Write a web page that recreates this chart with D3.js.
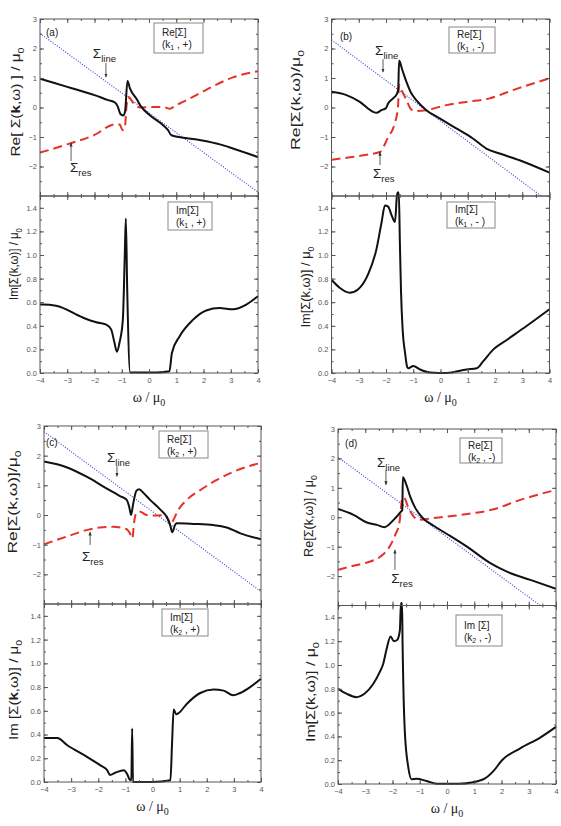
<!DOCTYPE html>
<meta charset="utf-8">
<title>Self-energy panels</title>
<style>

body {
  margin: 0;
  background: #fff;
}

svg {
  font-family: "Liberation Sans", Arial, sans-serif;
}

.frame {
  fill: none;
  stroke: #555;
  stroke-width: 1;
}

.axis line {
  stroke: #555;
}

.axis text {
  font-size: 7.5px;
  fill: #555;
}

.black {
  fill: none;
  stroke: #111;
  stroke-width: 2;
  stroke-linejoin: round;
}

.red {
  fill: none;
  stroke: #e53228;
  stroke-width: 2;
  stroke-dasharray: 9,5;
}

.blue {
  fill: none;
  stroke: #3a4bd8;
  stroke-width: 1.2;
  stroke-dasharray: 1,1.6;
}

.legend rect {
  fill: #fff;
  stroke: #888;
}

.legend text {
  font-size: 10px;
  fill: #222;
}

.note, .note tspan {
  fill: #222;
}

</style>
<body>
<script src="https://d3js.org/d3.v7.min.js"></script>
<script>

// tick values
var omegaTicks = [-4, -3, -2, -1, 0, 1, 2, 3, 4];
var reTicks = [-2, -1, 0, 1, 2, 3];
var imTicks = [0, 0.2, 0.4, 0.6, 0.8, 1.0, 1.2, 1.4];

// (a) k1, +
var aReBlack = [[-4,0.98],[-3,0.7],[-2,0.42],[-1.5,0.25],[-1.25,0.17],[-1.15,0.04],[-1.05,-0.22],[-0.95,-0.27],[-0.88,-0.15],[-0.79,0.9],[-0.7,0.65],[-0.46,0.3],[-0.28,0.02],[0.03,-0.26],[0.52,-0.6],[0.7,-0.77],[0.82,-0.94],[1.86,-1.1],[2.6,-1.25],[3.08,-1.39],[4,-1.68]];
var aReRed = [[-4,-1.53],[-3,-1.25],[-2,-0.93],[-1.25,-0.57],[-1.07,-0.58],[-0.97,-0.77],[-0.89,-0.72],[-0.82,0.1],[-0.75,0.36],[-0.65,0.25],[-0.55,0.12],[-0.3,0.0],[0.3,0.02],[0.6,0.0],[0.76,-0.04],[1.0,0.08],[1.25,0.19],[1.86,0.48],[2.35,0.72],[3.08,1.02],[4,1.23]];
var aLine = [[-4,2.51],[4,-2.87]];
var aImBlack = [[-4,0.58],[-3.9,0.58],[-3.41,0.57],[-2.43,0.47],[-1.94,0.43],[-1.57,0.41],[-1.39,0.37],[-1.27,0.26],[-1.18,0.18],[-1.08,0.26],[-0.96,0.45],[-0.89,0.99],[-0.85,1.31],[-0.8,0.71],[-0.69,0.005],[-0.35,0.005],[0.3,0.005],[0.75,0.015],[0.84,0.17],[1.12,0.31],[1.61,0.45],[2.1,0.53],[2.59,0.55],[3.08,0.54],[3.57,0.58],[4,0.65]];

// (b) k1, -
var bReBlack = [[-4,0.53],[-3.45,0.42],[-2.96,0.19],[-2.47,-0.15],[-2.35,-0.18],[-2.17,-0.09],[-2.01,-0.03],[-1.92,0.14],[-1.74,0.31],[-1.59,0.48],[-1.55,0.65],[-1.52,1.59],[-1.4,1.27],[-1.25,0.87],[-1.07,0.48],[-0.89,0.25],[-0.52,-0.09],[-0.03,-0.37],[0.58,-0.71],[1.19,-1.05],[1.68,-1.39],[2.17,-1.56],[2.9,-1.79],[4,-2.21]];
var bReRed = [[-4,-1.77],[-2.84,-1.62],[-2.23,-1.51],[-1.92,-1.0],[-1.68,-0.54],[-1.56,0.02],[-1.52,0.76],[-1.43,0.59],[-1.25,0.25],[-1.07,-0.07],[-0.89,-0.12],[-0.52,-0.09],[0.21,0.08],[0.95,0.19],[1.8,0.31],[2.66,0.59],[4,0.99]];
var bLine = [[-4,2.29],[4,-3.21]];
var bImBlack = [[-4,0.79],[-3.69,0.72],[-3.33,0.68],[-3.02,0.71],[-2.65,0.84],[-2.35,1.05],[-2.16,1.28],[-2.04,1.42],[-1.92,1.41],[-1.8,1.34],[-1.67,1.28],[-1.6,1.5],[-1.57,1.53],[-1.53,1.53],[-1.49,1.1],[-1.45,0.7],[-1.39,0.37],[-1.3,0.17],[-1.22,0.05],[-1.18,0.04],[-1.0,0.06],[-0.75,0.03],[-0.39,0.005],[0.23,0],[0.96,0.03],[1.33,0.04],[1.57,0.1],[1.94,0.2],[2.43,0.28],[3.17,0.4],[4,0.54]];

// (c) k2, +
var cReBlack = [[-4,1.8],[-3.17,1.61],[-2.43,1.29],[-1.7,0.9],[-1.2,0.64],[-0.95,0.51],[-0.86,0.28],[-0.79,0.0],[-0.71,0.39],[-0.59,0.82],[-0.49,0.87],[-0.34,0.75],[-0.09,0.51],[0.28,0.19],[0.52,-0.06],[0.65,-0.34],[0.73,-0.58],[0.83,-0.34],[0.89,-0.28],[1.51,-0.3],[2.25,-0.34],[2.74,-0.42],[3.24,-0.62],[4,-0.82]];
var cReRed = [[-4,-0.99],[-3.17,-0.73],[-2.43,-0.51],[-1.94,-0.42],[-1.45,-0.4],[-0.95,-0.48],[-0.83,-0.62],[-0.74,-0.79],[-0.69,-0.34],[-0.59,0.08],[-0.46,0.11],[-0.22,0],[0.15,-0.02],[0.46,0],[0.59,-0.17],[0.67,-0.34],[0.77,-0.17],[0.95,0.17],[1.26,0.51],[1.76,0.84],[2.37,1.18],[2.99,1.46],[4,1.76]];
var cLine = [[-4,2.81],[4,-2.58]];
var cImBlack = [[-4,0.37],[-3.51,0.37],[-3.14,0.31],[-2.4,0.21],[-1.92,0.14],[-1.67,0.1],[-1.57,0.06],[-1.36,0.08],[-1.06,0.1],[-0.94,0.07],[-0.84,0.02],[-0.78,0.015],[-0.75,0.45],[-0.72,0.0],[0,0.0],[0.66,0.015],[0.72,0.32],[0.78,0.61],[0.88,0.57],[0.96,0.58],[1.27,0.66],[1.76,0.75],[2.25,0.78],[2.62,0.77],[2.98,0.73],[3.23,0.75],[3.6,0.8],[4,0.87]];

// (d) k2, -
var dReBlack = [[-4,0.28],[-3.43,0.08],[-2.94,-0.18],[-2.57,-0.26],[-2.3,-0.34],[-1.96,-0.09],[-1.69,0.19],[-1.64,0.25],[-1.62,1.36],[-1.49,1.1],[-1.35,0.7],[-1.16,0.31],[-0.92,0],[-0.49,-0.29],[0,-0.57],[0.73,-1.0],[1.59,-1.56],[2.2,-1.85],[3.06,-2.13],[4,-2.43]];
var dReRed = [[-4,-1.79],[-3.43,-1.65],[-2.94,-1.54],[-2.45,-1.34],[-2.14,-1.05],[-1.9,-0.6],[-1.74,-0.15],[-1.64,0.65],[-1.59,0.68],[-1.41,0.31],[-1.22,0.02],[-1.04,-0.09],[-0.49,-0.03],[0.49,0.08],[1.71,0.27],[2.69,0.59],[4,0.93]];
var dLine = [[-4,2.04],[4,-3.39]];
var dImBlack = [[-4,0.8],[-3.69,0.76],[-3.33,0.73],[-3.02,0.76],[-2.71,0.84],[-2.47,0.94],[-2.34,1.01],[-2.22,1.13],[-2.07,1.24],[-1.95,1.2],[-1.83,1.21],[-1.73,1.29],[-1.69,1.52],[-1.65,1.52],[-1.63,1.18],[-1.55,0.45],[-1.42,0.14],[-1.3,0.04],[-1.12,0.045],[-0.75,0.025],[-0.38,0.003],[0.48,0.003],[1.34,0.04],[1.71,0.11],[2.02,0.2],[2.69,0.3],[3.42,0.39],[4,0.48]];

var panels = [
  {name: "(a)", k: "1", s: "+", imName: "Im[\u03a3]", left: 40, right: 258, top: 19, mid: 196, bottom: 373,
   re: aReBlack, res: aReRed, line: aLine, im: aImBlack,
   letter: [-3.78, 2.42], lineText: [-2.06, 1.68], lineArrow: [-1.58, 1.51, 1.03],
   resText: [-2.9, -2.19], resArrow: [-2.86, -1.81, -1.2],
   reBox: [114, 4, 49, 30], imBox: [128, 6, 44, 28],
   reLabel: [["Re[ \u03a3("], ["k", "b"], [",\u03c9) ] / \u03bc"], ["0", "s"]], reLen: 109, reX: -25, reY: 102,
   imLabel: [["Im[\u03a3(k,\u03c9)] / \u03bc"], ["0", "s"]], imLen: 72, imX: -27, imY: 264},
  {name: "(b)", k: "1", s: "-", imName: "Im[\u03a3]", left: 331.5, right: 549.5, top: 19, mid: 196, bottom: 373,
   re: bReBlack, res: bReRed, line: bLine, im: bImBlack,
   letter: [-3.69, 2.29], lineText: [-2.4, 1.78], lineArrow: [-2.11, 1.64, 1.2],
   resText: [-2.48, -2.39], resArrow: [-2.22, -1.95, -1.51],
   reBox: [117.5, 8, 46, 26], imBox: [115.5, 6, 48, 26],
   reLabel: [["Re[\u03a3(k,\u03c9)/\u03bc"], ["0", "s"]], reLen: 100, reX: -36.5, reY: 100,
   imLabel: [["Im[\u03a3(k,\u03c9)] / \u03bc"], ["0", "s"]], imLen: 81, imX: -26.5, imY: 287},
  {name: "(c)", k: "2", s: "+", imName: "Im[\u03a3]", left: 44, right: 261, top: 426, mid: 604, bottom: 782,
   re: cReBlack, res: cReRed, line: cLine, im: cImBlack,
   letter: [-3.93, 2.33], lineText: [-1.68, 1.79], lineArrow: [-1.31, 1.65, 1.3],
   resText: [-2.6, -1.55], resArrow: [-2.3, -1.01, -0.57],
   reBox: [115, 5, 49, 27], imBox: [118, 5, 46, 27],
   reLabel: [["Re[\u03a3(k,\u03c9)]/\u03bc"], ["0", "s"]], reLen: 103, reX: -32, reY: 502,
   imLabel: [["Im [\u03a3("], ["k", "b"], [",\u03c9)] / \u03bc"], ["0", "s"]], imLen: 100, imX: -31, imY: 690},
  {name: "(d)", k: "2", s: "-", imName: "Im [\u03a3]", left: 338, right: 556, top: 429, mid: 605.5, bottom: 784,
   re: dReBlack, res: dReRed, line: dLine, im: dImBlack,
   letter: [-3.74, 2.39], lineText: [-2.57, 1.71], lineArrow: [-2.24, 1.61, 1.1],
   resText: [-2.05, -2.23], resArrow: [-1.91, -1.79, -1.11],
   reBox: [122, 9, 42, 25], imBox: [118, 9.5, 46, 31],
   reLabel: [["Re[\u03a3(k,\u03c9)] / \u03bc"], ["0", "s"]], reLen: 82, reX: -30, reY: 516,
   imLabel: [["Im[\u03a3(k,\u03c9)] / \u03bc"], ["0", "s"]], imLen: 100, imX: -28, imY: 692}
];

var svg = d3.select("body").append("svg")
    .attr("width", 561)
    .attr("height", 826);

var defs = svg.append("defs");
defs.append("marker")
    .attr("id", "arrow")
    .attr("viewBox", "0 0 10 10")
    .attr("refX", 9).attr("refY", 5)
    .attr("markerWidth", 5).attr("markerHeight", 5)
    .attr("orient", "auto")
  .append("path")
    .attr("d", "M0,1L10,5L0,9z")
    .attr("fill", "#333");

function minors(lo, hi, step) {
  var out = [];
  for (var v = lo; v <= hi + 1e-9; v += step) out.push(+v.toFixed(3));
  return out;
}

function noDomain(s) { s.select(".domain").remove(); }

function frameAxes(g, x, y, w, h, yMajor, yMinor, yFmt, showX) {
  // left
  g.append("g").attr("class", "axis")
      .call(d3.axisLeft(y).tickValues(yMajor).tickSize(-4).tickPadding(3).tickFormat(yFmt))
      .call(noDomain);
  g.append("g").attr("class", "axis")
      .call(d3.axisLeft(y).tickValues(yMinor).tickSize(-2).tickFormat(""))
      .call(noDomain);
  // right
  g.append("g").attr("class", "axis").attr("transform", "translate(" + w + ",0)")
      .call(d3.axisRight(y).tickValues(yMajor).tickSize(-4).tickFormat(""))
      .call(noDomain);
  g.append("g").attr("class", "axis").attr("transform", "translate(" + w + ",0)")
      .call(d3.axisRight(y).tickValues(yMinor).tickSize(-2).tickFormat(""))
      .call(noDomain);
  // top
  g.append("g").attr("class", "axis")
      .call(d3.axisTop(x).tickValues(omegaTicks).tickSize(-4).tickFormat(""))
      .call(noDomain);
  g.append("g").attr("class", "axis")
      .call(d3.axisTop(x).tickValues(minors(-4, 4, 0.5)).tickSize(-2).tickFormat(""))
      .call(noDomain);
  // bottom
  g.append("g").attr("class", "axis").attr("transform", "translate(0," + h + ")")
      .call(d3.axisBottom(x).tickValues(omegaTicks).tickSize(-4).tickPadding(5)
        .tickFormat(showX ? d3.format("d") : ""))
      .call(noDomain);
  g.append("g").attr("class", "axis").attr("transform", "translate(0," + h + ")")
      .call(d3.axisBottom(x).tickValues(minors(-4, 4, 0.5)).tickSize(-2).tickFormat(""))
      .call(noDomain);
  g.append("rect").attr("class", "frame")
      .attr("width", w).attr("height", h);
}

function rotLabel(g, parts, cx, cy, len) {
  var t = g.append("text")
      .attr("class", "note")
      .attr("transform", "translate(" + cx + "," + cy + ") rotate(-90)")
      .attr("text-anchor", "middle")
      .attr("dy", "0.35em")
      .attr("font-size", 13)
      .attr("textLength", len)
      .attr("lengthAdjust", "spacingAndGlyphs");
  parts.forEach(function(p) {
    var sp = t.append("tspan").text(p[0]);
    if (p[1] === "b") sp.attr("font-weight", "bold");
    if (p[1] === "s") sp.attr("font-size", 9).attr("dy", 4);
  });
}

function sigma(g, x, y, pos, sub) {
  var t = g.append("text")
      .attr("class", "note")
      .attr("x", x(pos[0])).attr("y", y(pos[1]))
      .attr("font-size", 13.5);
  t.append("tspan").text("\u03a3");
  t.append("tspan").attr("font-size", 9.5).attr("dy", 4).text(sub);
}

function arrow(g, x, y, a) {
  g.append("line")
      .attr("x1", x(a[0])).attr("x2", x(a[0]))
      .attr("y1", y(a[1])).attr("y2", y(a[2]))
      .attr("stroke", "#333").attr("stroke-width", 0.8)
      .attr("marker-end", "url(#arrow)");
}

function legend(g, box, first, k, s) {
  var lg = g.append("g").attr("class", "legend")
      .attr("transform", "translate(" + box[0] + "," + box[1] + ")");
  lg.append("rect").attr("width", box[2]).attr("height", box[3]);
  lg.append("text").attr("x", 8).attr("y", box[3] / 2 - 2).text(first);
  var t = lg.append("text").attr("x", 8).attr("y", box[3] / 2 + 10);
  t.append("tspan").text("(k");
  t.append("tspan").attr("font-size", 7).attr("dy", 2).text(k);
  t.append("tspan").attr("dy", -2).text(" , " + s + ")");
}

panels.forEach(function(p, i) {
  var w = p.right - p.left;
  var hTop = p.mid - p.top;
  var hBot = p.bottom - p.mid;

  var x = d3.scaleLinear().domain([-4, 4]).range([0, w]);
  var yRe = d3.scaleLinear().domain([-3, 3]).range([hTop, 0]);
  var yIm = d3.scaleLinear().domain([0, 1.5]).range([hBot, 0]);

  var line = d3.line().x(function(d) { return x(d[0]); });

  // top: real part
  var gt = svg.append("g").attr("transform", "translate(" + p.left + "," + p.top + ")");
  defs.append("clipPath").attr("id", "clipRe" + i)
    .append("rect").attr("width", w).attr("height", hTop);

  var plotRe = gt.append("g").attr("clip-path", "url(#clipRe" + i + ")");
  plotRe.append("path").datum(p.line).attr("class", "blue")
      .attr("d", line.y(function(d) { return yRe(d[1]); }).curve(d3.curveLinear));
  plotRe.append("path").datum(p.res).attr("class", "red")
      .attr("d", line.y(function(d) { return yRe(d[1]); }).curve(d3.curveMonotoneX));
  plotRe.append("path").datum(p.re).attr("class", "black")
      .attr("d", line.y(function(d) { return yRe(d[1]); }).curve(d3.curveMonotoneX));

  frameAxes(gt, x, yRe, w, hTop, reTicks, minors(-3, 3, 0.5), d3.format("d"), false);

  gt.append("text")
      .attr("class", "note")
      .attr("x", x(p.letter[0])).attr("y", yRe(p.letter[1]))
      .attr("font-size", 10).text(p.name);
  sigma(gt, x, yRe, p.lineText, "line");
  arrow(gt, x, yRe, p.lineArrow);
  sigma(gt, x, yRe, p.resText, "res");
  arrow(gt, x, yRe, p.resArrow);
  legend(gt, p.reBox, "Re[\u03a3]", p.k, p.s);

  // bottom: imaginary part
  var gb = svg.append("g").attr("transform", "translate(" + p.left + "," + p.mid + ")");
  gb.append("path").datum(p.im).attr("class", "black")
      .attr("d", line.y(function(d) { return yIm(d[1]); }).curve(d3.curveMonotoneX));

  frameAxes(gb, x, yIm, w, hBot, imTicks, minors(0, 1.5, 0.1), d3.format(".1f"), true);
  legend(gb, p.imBox, p.imName, p.k, p.s + (i === 1 ? " " : ""));

  gb.append("text")
      .attr("class", "note")
      .attr("x", w / 2).attr("y", hBot + 29)
      .attr("text-anchor", "middle")
      .attr("font-family", "'Liberation Serif', serif")
      .attr("font-size", 14)
      .call(function(t) {
        t.append("tspan").text("\u03c9 / \u03bc");
        t.append("tspan").attr("font-size", 10).attr("dy", 4).text("0");
      });

  // y titles, placed relative to the plot's left edge
  var gl = svg.append("g").attr("transform", "translate(" + p.left + ",0)");
  rotLabel(gl, p.reLabel, p.reX, p.reY, p.reLen);
  rotLabel(gl, p.imLabel, p.imX, p.imY, p.imLen);
});

</script>
